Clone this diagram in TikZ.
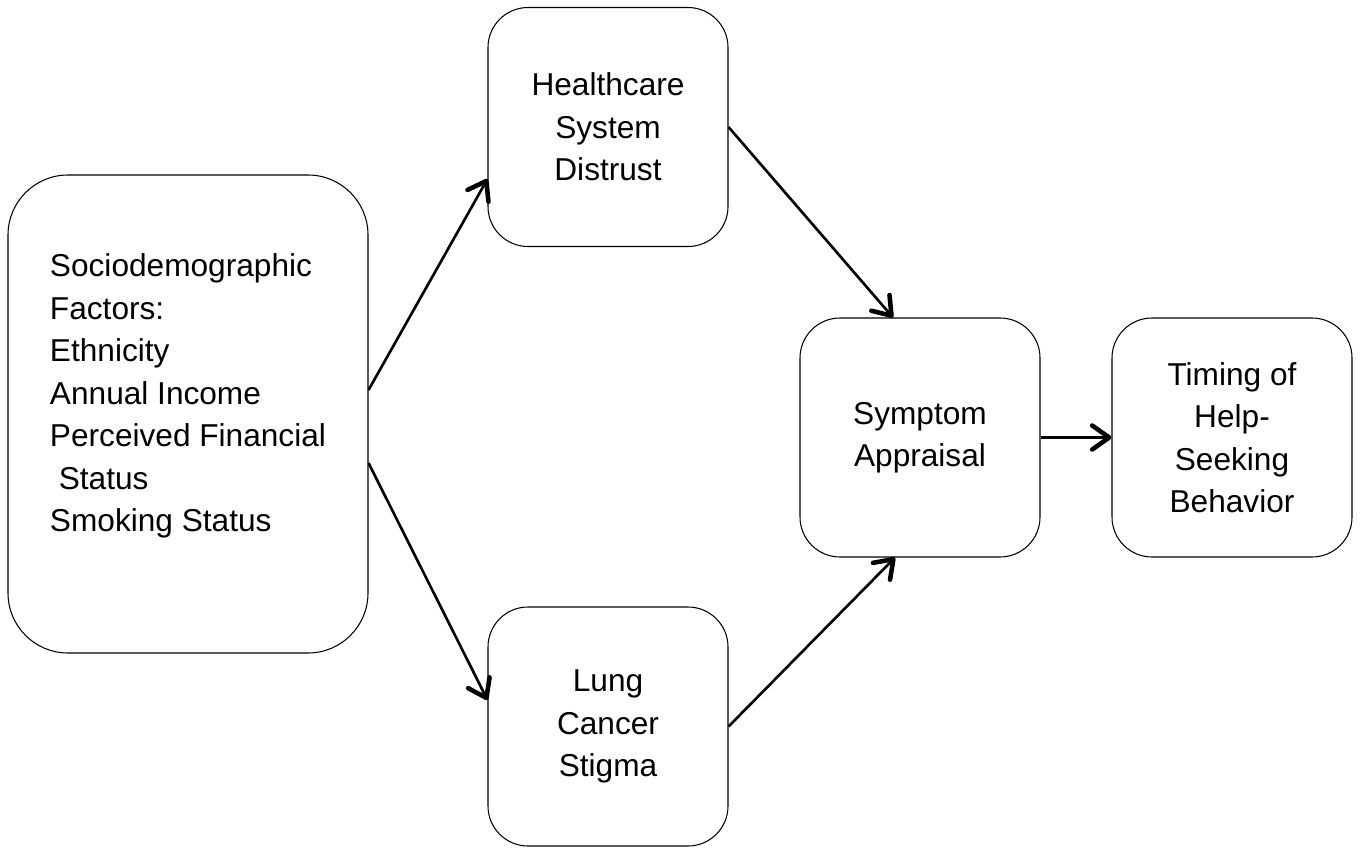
\documentclass[tikz,border=0pt]{standalone}
\usepackage{fontspec}
\setmainfont{Liberation Sans}
\usetikzlibrary{arrows.meta}

\begin{document}
\begin{tikzpicture}[
    box/.style={draw, line width=0.6pt, rounded corners=0.8cm, minimum width=4.8cm, minimum height=4.78cm, align=center, font=\fontsize{18}{24.2}\selectfont},
    arr/.style={line width=1.5pt, -{Straight Barb[round, line width=2.6pt, length=3.4mm, width=4.8mm]}}
]
    \useasboundingbox (0,0) rectangle (27.26,16.96);
    \node[box, rounded corners=1.2cm, minimum width=7.2cm, minimum height=9.56cm, align=left] (socio) at (3.76,8.68)
        {Sociodemographic\\Factors:\\Ethnicity\\Annual Income\\Perceived Financial\\\ Status\\Smoking Status\\~};
    \node[box] (distrust) at (12.16,14.42) {Healthcare\\System\\Distrust};
    \node[box] (stigma) at (12.16,2.43) {Lung\\Cancer\\Stigma};
    \node[box] (appraisal) at (18.4,8.21) {Symptom\\Appraisal};
    \node[box] (timing) at (24.64,8.21) {Timing of\\Help-\\Seeking\\Behavior};
    \draw[arr] ([yshift=0.48cm]socio.east) -- ([yshift=-1.04cm]distrust.west);
    \draw[arr] ([yshift=-0.98cm]socio.east) -- ([yshift=0.53cm]stigma.west);
    \draw[arr] (distrust.east) -- ([xshift=-0.54cm]appraisal.north);
    \draw[arr] (stigma.east) -- ([xshift=-0.5cm]appraisal.south);
    \draw[arr] (appraisal.east) -- (timing.west);
\end{tikzpicture}
\end{document}
